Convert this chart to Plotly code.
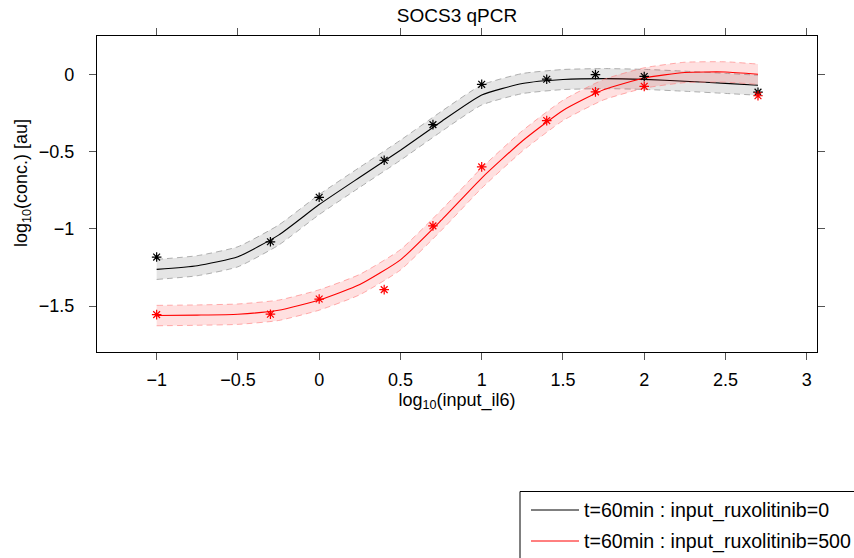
import plotly.graph_objects as go

# log10 of the IL-6 input doses
dose_log = [-1, -0.3, 0, 0.4, 0.7, 1, 1.4, 1.7, 2, 2.7]

# measured SOCS3 levels, log10(conc.)
obs_rux0 = [-1.182, -1.083, -0.795, -0.555, -0.324, -0.063, -0.030, 0.0, -0.012, -0.114]
obs_rux500 = [-1.555, -1.552, -1.454, -1.393, -0.980, -0.598, -0.298, -0.112, -0.076, -0.137]

# model fits, sampled on a regular grid
fit_x = [-1, -0.75, -0.5, -0.25, 0, 0.25, 0.5, 0.75, 1, 1.25, 1.5, 1.75, 2, 2.25, 2.5, 2.7]
fit_y_rux0 = [-1.262, -1.238, -1.18, -1.04, -0.842, -0.665, -0.49, -0.305, -0.132,
              -0.058, -0.032, -0.026, -0.031, -0.043, -0.057, -0.069]
fit_y_rux500 = [-1.561, -1.558, -1.552, -1.527, -1.46, -1.36, -1.2, -0.945, -0.67,
                -0.43, -0.232, -0.098, -0.022, 0.014, 0.017, 0.002]

# half-width of the confidence band
band_rux0 = 0.065
band_rux500 = 0.066

labels = ["t=60min : input_ruxolitinib=0", "t=60min : input_ruxolitinib=500"]

FONT = "Liberation Sans, Arial, Helvetica, sans-serif"
W, H = 854, 558
ML, MR, MT, MB = 97, 37, 36, 206
PW, PH = W - ML - MR, H - MT - MB


def px_x(p):
    return (p - ML) / PW


def px_y(p):
    return (H - MB - p) / PH


fig = go.Figure()
line_opts = dict(shape="spline", smoothing=0.5)


def add_series(fy, half, color, fill, edge):
    lo = [v - half for v in fy]
    hi = [v + half for v in fy]
    fig.add_trace(go.Scatter(x=fit_x, y=lo, mode="lines", showlegend=False,
                             line=dict(color=edge, width=1, dash="6px,4px", **line_opts),
                             hoverinfo="skip"))
    fig.add_trace(go.Scatter(x=fit_x, y=hi, mode="lines", showlegend=False, fill="tonexty",
                             fillcolor=fill,
                             line=dict(color=edge, width=1, dash="6px,4px", **line_opts),
                             hoverinfo="skip"))
    fig.add_trace(go.Scatter(x=fit_x, y=fy, mode="lines", showlegend=False,
                             line=dict(color=color, width=1.1, **line_opts)))


add_series(fit_y_rux0, band_rux0, "black", "rgba(0,0,0,0.10)", "rgba(150,150,150,0.75)")
add_series(fit_y_rux500, band_rux500, "red", "rgba(255,0,0,0.12)", "rgba(255,120,120,0.6)")

for oy, color in [(obs_rux0, "black"), (obs_rux500, "red")]:
    fig.add_trace(go.Scatter(x=dose_log, y=oy, mode="markers", showlegend=False,
                             marker=dict(symbol="asterisk-open", size=8, color=color,
                                         line=dict(color=color, width=1.2))))

axis_common = dict(showline=True, linecolor="black", linewidth=1.2, mirror="allticks",
                   ticks="outside", ticklen=7, tickcolor="#555", tickwidth=1,
                   showgrid=False, zeroline=False,
                   tickfont=dict(family=FONT, size=18, color="black"))

fig.update_xaxes(range=[-1.367, 3.063], dtick=0.5, tick0=0, ticklabelstandoff=4,
                 title=dict(text="log<sub>10</sub>(input_il6)",
                            font=dict(family=FONT, size=18, color="black"), standoff=0),
                 **axis_common)
fig.update_yaxes(range=[-1.797, 0.25], dtick=0.5, tick0=0, ticklabelstandoff=11,
                 **axis_common)

# y-axis title placed beside the tick labels
annotations = [dict(text="log<sub>10</sub>(conc.) [au]", xref="paper", yref="paper",
                    x=px_x(22), y=px_y(183), xanchor="center", yanchor="middle",
                    textangle=-90, showarrow=False,
                    font=dict(family=FONT, size=18, color="black"))]

# legend box drawn at the lower right
shapes = [
    dict(type="rect", xref="paper", yref="paper",
         x0=px_x(520), x1=px_x(900), y0=px_y(491.5), y1=px_y(620),
         line=dict(color="black", width=1), fillcolor="white", layer="above"),
]
for i, (lab, col) in enumerate(zip(labels, ["black", "red"])):
    yy = 510 + 31 * i
    shapes.append(dict(type="line", xref="paper", yref="paper",
                       x0=px_x(531), x1=px_x(579), y0=px_y(yy), y1=px_y(yy),
                       line=dict(color=col, width=1), layer="above"))
    annotations.append(dict(text=lab, xref="paper", yref="paper", x=px_x(582), y=px_y(yy),
                            xanchor="left", yanchor="middle", showarrow=False,
                            font=dict(family=FONT, size=19.6, color="black")))

fig.update_layout(
    width=W, height=H,
    margin=dict(l=ML, r=MR, t=MT, b=MB, autoexpand=False),
    paper_bgcolor="white", plot_bgcolor="white",
    title=dict(text="SOCS3 qPCR", x=0.5, xref="paper", y=1 - 15 / H, yanchor="middle",
               font=dict(family=FONT, size=19, color="black")),
    shapes=shapes, annotations=annotations,
    showlegend=False,
)

fig.write_html("out.html")
